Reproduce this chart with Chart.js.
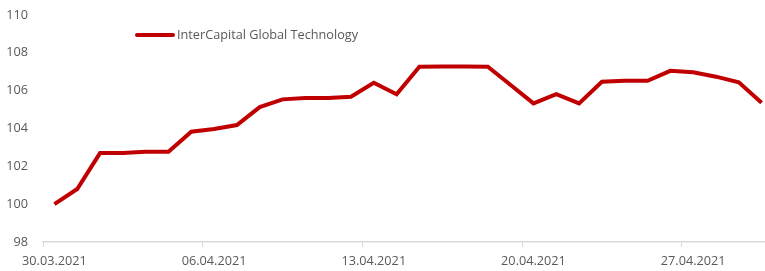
<!DOCTYPE html>
<html>
<head>
<meta charset="utf-8">
<script src="https://cdn.jsdelivr.net/npm/chart.js@4"></script>
<style>
  html, body { margin: 0; padding: 0; background: #fff; }
  #wrap { width: 765px; height: 271px; }
</style>
</head>
<body>
<div id="wrap"><canvas id="chart"></canvas></div>
<script>
// dates 30.03.2021 - 30.04.2021 (daily)
const dates = [
  "30.03.2021", "31.03.2021", "01.04.2021", "02.04.2021", "03.04.2021", "04.04.2021",
  "05.04.2021", "06.04.2021", "07.04.2021", "08.04.2021", "09.04.2021", "10.04.2021",
  "11.04.2021", "12.04.2021", "13.04.2021", "14.04.2021", "15.04.2021", "16.04.2021",
  "17.04.2021", "18.04.2021", "19.04.2021", "20.04.2021", "21.04.2021", "22.04.2021",
  "23.04.2021", "24.04.2021", "25.04.2021", "26.04.2021", "27.04.2021", "28.04.2021",
  "29.04.2021", "30.04.2021"
];

const technology = [
  100.0, 100.8, 102.7, 102.7, 102.77, 102.77, 103.83, 103.97, 104.18, 105.13,
  105.54, 105.61, 105.61, 105.68, 106.42, 105.81, 107.27, 107.28, 107.28, 107.27,
  106.3, 105.33, 105.81, 105.33, 106.47, 106.52, 106.52, 107.05, 106.97, 106.74,
  106.44, 105.36
];

const seriesName = "InterCapital Global Technology";
const yTicks = [98, 100, 102, 104, 106, 108, 110];
const labelStep = 7;

const fontFamily = "'Open Sans', sans-serif";
const fontSize = 12.7;
const textColor = "#595959";
const lineColor = "#c00000";
const axisColor = "#d9d9d9";

// the plot runs a little past the right edge of the picture
const overflowRight = 8;
const stretchPlot = {
  id: "stretchPlot",
  afterLayout(chart) {
    const x = chart.scales.x;
    x.right += overflowRight;
    x.width += overflowRight;
    x.configure();
    chart.chartArea.right += overflowRight;
    chart.chartArea.width += overflowRight;
  }
};

// legend sits inside the plot area, drawn by hand
const insideLegend = {
  id: "insideLegend",
  afterDraw(chart) {
    const ds = chart.data.datasets[0];
    const ctx = chart.ctx;
    const x = chart.chartArea.left + 94;
    const y = chart.chartArea.top + 20;
    ctx.save();
    ctx.strokeStyle = ds.borderColor;
    ctx.lineWidth = 4;
    ctx.lineCap = "round";
    ctx.beginPath();
    ctx.moveTo(x, y);
    ctx.lineTo(x + 36, y);
    ctx.stroke();
    ctx.fillStyle = textColor;
    ctx.font = fontSize + "px " + fontFamily;
    ctx.textBaseline = "middle";
    ctx.fillText(ds.label, x + 40, y);
    ctx.restore();
  }
};

new Chart(document.getElementById("chart"), {
  type: "line",
  data: {
    labels: dates,
    datasets: [{
      label: seriesName,
      data: technology,
      borderColor: lineColor,
      borderWidth: 4,
      pointRadius: 0,
      tension: 0,
      fill: false
    }]
  },
  options: {
    responsive: true,
    maintainAspectRatio: false,
    animation: false,
    layout: { padding: { top: 15, right: 0, left: 0, bottom: 0 } },
    plugins: {
      legend: { display: false },
      tooltip: { enabled: false }
    },
    scales: {
      x: {
        offset: true,
        afterFit(scale) { scale.height = 29; },
        grid: {
          offset: true,
          drawOnChartArea: false,
          drawTicks: true,
          tickLength: 5,
          lineWidth: 1,
          color: (c) => (c.index % labelStep === 0 ? axisColor : "rgba(0,0,0,0)")
        },
        border: { display: true, color: axisColor, width: 1.5 },
        ticks: {
          autoSkip: false,
          maxRotation: 0,
          padding: 7,
          color: textColor,
          font: { family: fontFamily, size: fontSize },
          callback(value, index) {
            return index % labelStep === 0 ? this.getLabelForValue(value) : "";
          }
        }
      },
      y: {
        min: yTicks[0],
        max: yTicks[yTicks.length - 1],
        afterFit(scale) {
          scale.width = 43;
          scale.paddingTop = 0;
          scale.paddingBottom = 0;
        },
        afterBuildTicks(scale) { scale.ticks = yTicks.map((v) => ({ value: v })); },
        grid: { display: false, drawTicks: false, tickLength: 0 },
        border: { display: false },
        ticks: {
          padding: 15,
          color: textColor,
          font: { family: fontFamily, size: fontSize }
        }
      }
    }
  },
  plugins: [stretchPlot, insideLegend]
});
</script>
</body>
</html>
